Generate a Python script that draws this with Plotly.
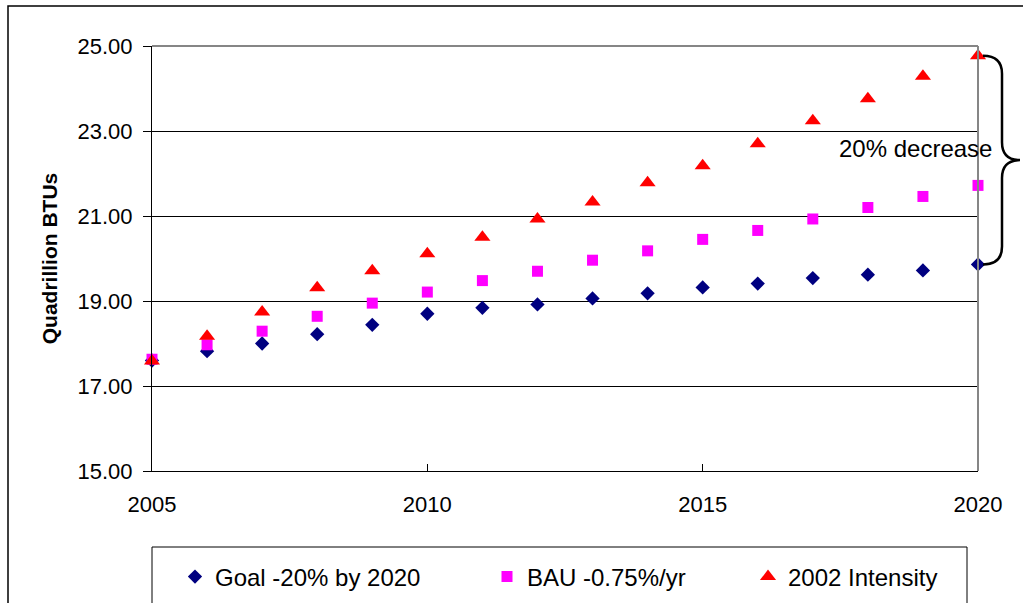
import plotly.graph_objects as go

years = list(range(2005, 2021))
goal = [17.60, 17.82, 18.00, 18.22, 18.44, 18.70, 18.84, 18.92,
        19.06, 19.18, 19.32, 19.41, 19.54, 19.62, 19.72, 19.86]
bau = [17.63, 17.97, 18.29, 18.64, 18.95, 19.21, 19.48, 19.70,
       19.96, 20.18, 20.45, 20.66, 20.93, 21.20, 21.46, 21.72]
intensity = [17.59, 18.17, 18.74, 19.31, 19.71, 20.11, 20.50, 20.93,
             21.33, 21.78, 22.18, 22.70, 23.24, 23.76, 24.29, 24.77]

names = ["Goal -20% by 2020", "BAU -0.75%/yr", "2002 Intensity"]
x_ticks = [2005, 2010, 2015, 2020]
y_ticks = [15, 17, 19, 21, 23, 25]
annotation_text = "20% decrease"
y_title = "Quadrillion BTUs"

FONT = "Liberation Sans, Arial, sans-serif"

fig = go.Figure()
fig.add_trace(go.Scatter(x=years, y=goal, mode="markers", name=names[0],
                         marker=dict(symbol="diamond", size=11, color="#000080"),
                         cliponaxis=False, legend="legend"))
fig.add_trace(go.Scatter(x=years, y=bau, mode="markers", name=names[1],
                         marker=dict(symbol="square", size=11, color="#FF00FF"),
                         cliponaxis=False, legend="legend2"))
fig.add_trace(go.Scatter(x=years, y=intensity, mode="markers", name=names[2],
                         marker=dict(symbol="triangle-up", size=14, color="#FF0000"),
                         cliponaxis=False, legend="legend3"))

L, R, T, B = 152, 45, 46, 132
W, H = 1023, 603
pw, ph = W - L - R, H - T - B


def px_x(p):
    return (p - L) / pw


def px_y(p):
    return 1 - (p - T) / ph


legend_common = dict(orientation="h", bgcolor="rgba(0,0,0,0)", borderwidth=0,
                     font=dict(family=FONT, size=24, color="black"),
                     xanchor="left", yanchor="middle", y=px_y(577))

# brace geometry anchored to the 2020 values
top_v = intensity[-1]
bot_v = goal[-1]
mid_v = (top_v + bot_v) / 2
r = 0.42
x0b, x1b, x2b = px_x(983), px_x(1002), px_x(1020)
brace = (f"M {x0b},{top_v} Q {x1b},{top_v} {x1b},{top_v - r} "
         f"L {x1b},{mid_v + r} Q {x1b},{mid_v} {x2b},{mid_v} "
         f"Q {x1b},{mid_v} {x1b},{mid_v - r} "
         f"L {x1b},{bot_v + r} Q {x1b},{bot_v} {x0b},{bot_v}")

fig.update_layout(
    width=W, height=H,
    margin=dict(l=L, r=R, t=T, b=B, autoexpand=False),
    paper_bgcolor="white", plot_bgcolor="white",
    font=dict(family=FONT, size=22, color="black"),
    showlegend=True,
    legend=dict(**legend_common, x=px_x(175)),
    legend2=dict(**legend_common, x=px_x(487)),
    legend3=dict(**legend_common, x=px_x(748)),
    xaxis=dict(range=[2005, 2020], tickvals=x_ticks, ticks="inside", ticklen=7,
               tickcolor="black", showline=True, linecolor="black", linewidth=1,
               showgrid=False, zeroline=False, ticklabelstandoff=14,
               tickfont=dict(size=22)),
    yaxis=dict(range=[15, 25], tickvals=y_ticks, tickformat=".2f", ticks="outside",
               ticklen=8, tickcolor="black", showline=True, linecolor="black",
               linewidth=1, showgrid=True, gridcolor="black", gridwidth=1,
               zeroline=False, ticklabelstandoff=6, tickfont=dict(size=22),
               title=dict(text=f"<b>{y_title}</b>", font=dict(size=21, family=FONT),
                          standoff=14)),
    shapes=[
        # outer chart frame
        dict(type="rect", xref="paper", yref="paper", x0=px_x(8), x1=px_x(1040),
             y0=px_y(640), y1=px_y(6), line=dict(color="black", width=1.5),
             layer="below"),
        # plot area top and right border
        dict(type="line", xref="paper", yref="paper", x0=0, x1=1, y0=1, y1=1,
             line=dict(color="#868686", width=2)),
        dict(type="line", xref="paper", yref="paper", x0=1, x1=1, y0=0, y1=1,
             line=dict(color="#868686", width=2)),
        # legend box
        dict(type="rect", xref="paper", yref="paper", x0=px_x(152), x1=px_x(967),
             y0=px_y(640), y1=px_y(547), line=dict(color="black", width=1)),
        # brace
        dict(type="path", xref="paper", yref="y", path=brace,
             line=dict(color="black", width=2.5)),
    ],
    annotations=[
        dict(text=annotation_text, xref="paper", yref="paper", x=px_x(915.5),
             y=px_y(148), showarrow=False, xanchor="center", yanchor="middle",
             font=dict(size=24, color="black", family=FONT)),
    ],
)

fig.write_html("out.html", post_script="document.body.style.margin='0';",
               config={"displayModeBar": False})
